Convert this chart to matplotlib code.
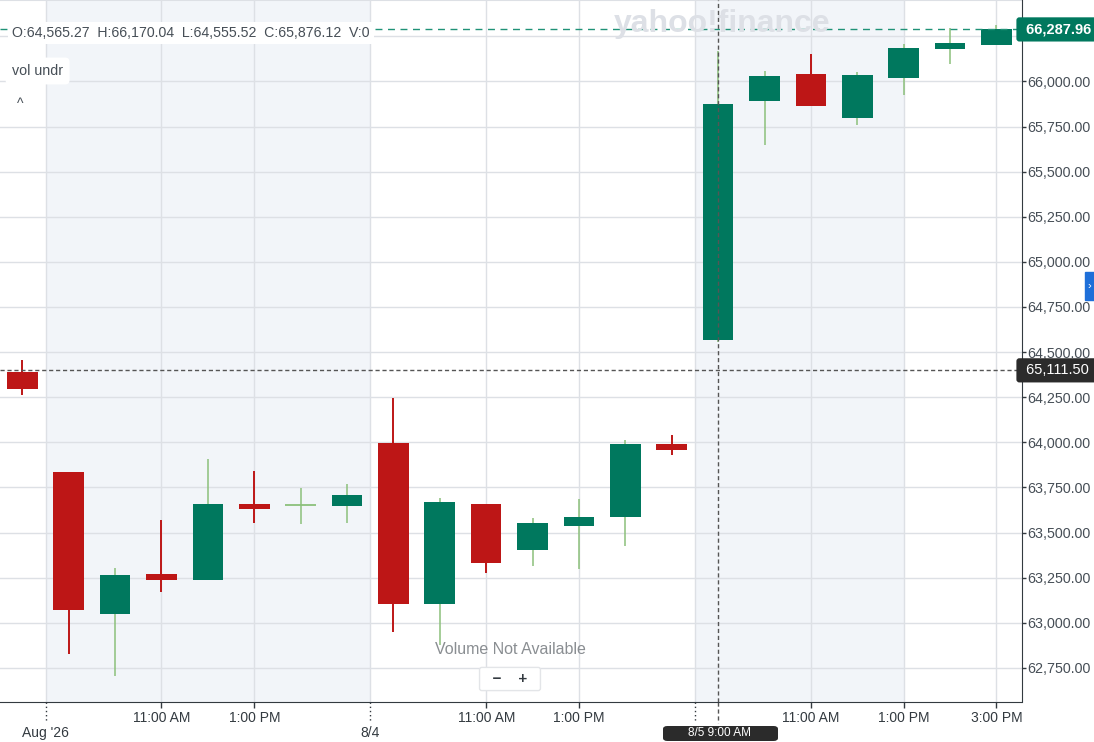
import matplotlib
matplotlib.use('Agg')
import matplotlib.pyplot as plt
import matplotlib.transforms as mtransforms
from matplotlib.patches import FancyBboxPatch, Rectangle

plt.rcParams['font.family'] = ['Liberation Sans', 'DejaVu Sans']

# hourly candles: Jul 31 15:00, Aug 3 09-15, Aug 4 09-15, Aug 5 09-15
times = ['07-31 15:00',
         '08-03 09:00', '08-03 10:00', '08-03 11:00', '08-03 12:00', '08-03 13:00', '08-03 14:00', '08-03 15:00',
         '08-04 09:00', '08-04 10:00', '08-04 11:00', '08-04 12:00', '08-04 13:00', '08-04 14:00', '08-04 15:00',
         '08-05 09:00', '08-05 10:00', '08-05 11:00', '08-05 12:00', '08-05 13:00', '08-05 14:00', '08-05 15:00']
opens  = [64391, 63837, 63051, 63272, 63239, 63660, 63653, 63649, 63998, 63102, 63660,
          63401, 63534, 63584, 63992, 64565.27, 65893, 66041, 65799, 66021, 66181, 66203]
highs  = [64457, 63837, 63305, 63571, 63909, 63843, 63749, 63771, 64247, 63693, 63660,
          63582, 63688, 64014, 64042, 66170.04, 66058, 66154, 66052, 66207, 66296, 66313]
lows   = [64260, 62829, 62704, 63173, 63235, 63555, 63549, 63555, 62947, 62879, 63274,
          63313, 63296, 63423, 63931, 64555.52, 65650, 65866, 65759, 65925, 66098, 66203]
closes = [64298, 63069, 63267, 63239, 63660, 63632, 63653, 63710, 63102, 63671, 63329,
          63555, 63588, 63992, 63955, 65876.12, 66030, 65866, 66036, 66185, 66213, 66287.96]

time_ticks = [3, 5, 10, 12, 17, 19, 21]
time_labels = ['11:00 AM', '1:00 PM', '11:00 AM', '1:00 PM', '11:00 AM', '1:00 PM', '3:00 PM']
day_ticks = [0.5, 7.5, 14.5]
day_labels = ["Aug '26", '8/4', '']
price_ticks = [62750, 63000, 63250, 63500, 63750, 64000, 64250, 64500,
               64750, 65000, 65250, 65500, 65750, 66000]
shade_spans = [(0.5, 7.5), (14.5, 19)]

last_price = 66287.96
cross_price = 64399
cross_idx = 15

GREEN = '#00785E'
GREEN_WICK = '#8CC07B'
RED = '#BD1616'
GRID = '#DDE0E5'
SHADE = '#F2F5F9'
TXT = '#464E56'
AXC = '#333A40'

fig = plt.figure(figsize=(10.94, 7.42), dpi=100)
fig.patch.set_facecolor('white')
ax = fig.add_axes([0, 40.3 / 742, 1021.5 / 1094, 701.7 / 742])
ax.set_xlim(-0.481, 21.54)
ax.set_ylim(62563, 66451)
ax.set_facecolor('white')

for a, b in shade_spans:
    ax.axvspan(a, b, color=SHADE, lw=0, zorder=0)

for p in price_ticks + [66250]:
    ax.axhline(p, color=GRID, lw=1, zorder=1)
for x in day_ticks + time_ticks:
    ax.axvline(x, color=GRID, lw=1, zorder=1)
ax.axhline(66451, color=GRID, lw=1.5, zorder=1)

# candles
for i in range(len(times)):
    o, h, l, c = opens[i], highs[i], lows[i], closes[i]
    up = c >= o
    wick_c = GREEN_WICK if up else RED
    ax.vlines(i, l, h, color=wick_c, lw=1.1 if up else 1.4, zorder=2)
    if abs(c - o) < 1:
        ax.hlines(o, i - 0.33, i + 0.33, color=wick_c, lw=1.3, zorder=3)
    else:
        ax.bar(i, abs(c - o), bottom=min(o, c), width=0.66,
               color=GREEN if up else RED, lw=0, zorder=3)

# last price & crosshair
ax.axhline(last_price, color='#1F9277', lw=1, ls=(0, (5, 4)), zorder=4)
ax.axhline(cross_price, color='#555555', lw=1, ls=(0, (3, 2)), zorder=4)
ax.axvline(cross_idx, color='#555555', lw=1, ls=(0, (3, 2)), zorder=4)

# axes style
for s in ['top', 'left']:
    ax.spines[s].set_visible(False)
ax.spines['right'].set_color(AXC)
ax.spines['bottom'].set_color(AXC)
ax.yaxis.tick_right()
ax.set_yticks(price_ticks)
ax.set_yticklabels([f'{p:,.2f}' for p in price_ticks])
ax.tick_params(axis='y', length=3, width=1, color=AXC, pad=1,
               labelsize=10.3, labelcolor=TXT)
ax.set_xticks(time_ticks)
ax.set_xticklabels(time_labels)
ax.tick_params(axis='x', length=4, width=1, color=AXC, pad=3,
               labelsize=10, labelcolor=AXC)
for lab in ax.get_xticklabels():
    lab.set_stretch('condensed')

trans_x = mtransforms.blended_transform_factory(ax.transData, ax.transAxes)
for x, lab in zip(day_ticks, day_labels):
    ax.plot([x, x], [0, -0.028], transform=trans_x, color=AXC, lw=1,
            ls=(0, (1, 2)), clip_on=False)
    ax.text(x, -0.044, lab, transform=trans_x, ha='center', va='center',
            fontsize=10, color=AXC)
ax.plot([cross_idx, cross_idx], [0, -0.03], transform=trans_x, color='#555555',
        lw=1, ls=(0, (3, 2)), clip_on=False)

# price labels on the right
trans_y = mtransforms.blended_transform_factory(ax.transAxes, ax.transData)
ax.text(1.0, last_price, ' 66,287.96 ', transform=trans_y, ha='left', va='center',
        fontsize=10.5, color='white', fontweight='bold', zorder=10,
        bbox=dict(boxstyle='round,pad=0.35,rounding_size=0.2', fc='#00785E', ec='none'))
ax.text(1.0, cross_price, ' 65,111.50 ', transform=trans_y, ha='left', va='center',
        fontsize=10.5, color='white', zorder=10,
        bbox=dict(boxstyle='round,pad=0.35,rounding_size=0.2', fc='#2B2B2B', ec='none'))

# crosshair time label
fig.patches.append(FancyBboxPatch((663 / 1094, 1 - 741 / 742), 115 / 1094, 15 / 742,
                                  boxstyle='round,pad=0,rounding_size=0.004',
                                  transform=fig.transFigure, fc='#2B2B2B', ec='none', zorder=5))
fig.text(720 / 1094, 1 - 733.5 / 742, '8/5 9:00 AM', ha='center', va='center',
         fontsize=8.5, color='white', zorder=6)

# blue side tab
fig.patches.append(Rectangle((1085 / 1094, 1 - 300 / 742), 9 / 1094, 28 / 742,
                             transform=fig.transFigure, color='#1E6FD9', zorder=5))
fig.text(1089.5 / 1094, 1 - 286 / 742, '›', ha='center', va='center',
         fontsize=8, color='white', zorder=6)

# watermark
fig.text(722 / 1094, 1 - 24 / 742, 'yahoo!finance', ha='center', va='center',
         fontsize=23, fontweight='heavy', color='#DDE0E6', zorder=0.5)

# OHLC header
fig.text(12 / 1094, 1 - 33 / 742, 'O:64,565.27  H:66,170.04  L:64,555.52  C:65,876.12  V:0',
         ha='left', va='center', fontsize=10.2, color=TXT,
         bbox=dict(boxstyle='square,pad=0.3', fc='white', ec='none'))
fig.text(12 / 1094, 1 - 71 / 742, 'vol undr', ha='left', va='center', fontsize=10.3,
         color=TXT, bbox=dict(boxstyle='round,pad=0.45,rounding_size=0.3', fc='white', ec='none'))
fig.text(20 / 1094, 1 - 104 / 742, '^', ha='center', va='center', fontsize=10, color=TXT)

# volume note and zoom buttons
fig.text(510 / 1094, 1 - 649 / 742, 'Volume Not Available', ha='center', va='center',
         fontsize=11.5, color='#8A8E92')
fig.text(510 / 1094, 1 - 679 / 742, '  −    +  ', ha='center', va='center', fontsize=11,
         color=AXC, fontweight='bold',
         bbox=dict(boxstyle='round,pad=0.3,rounding_size=0.15', fc='white', ec='#E3E5E8'))

fig.savefig('out.png', dpi=100, facecolor='white')
